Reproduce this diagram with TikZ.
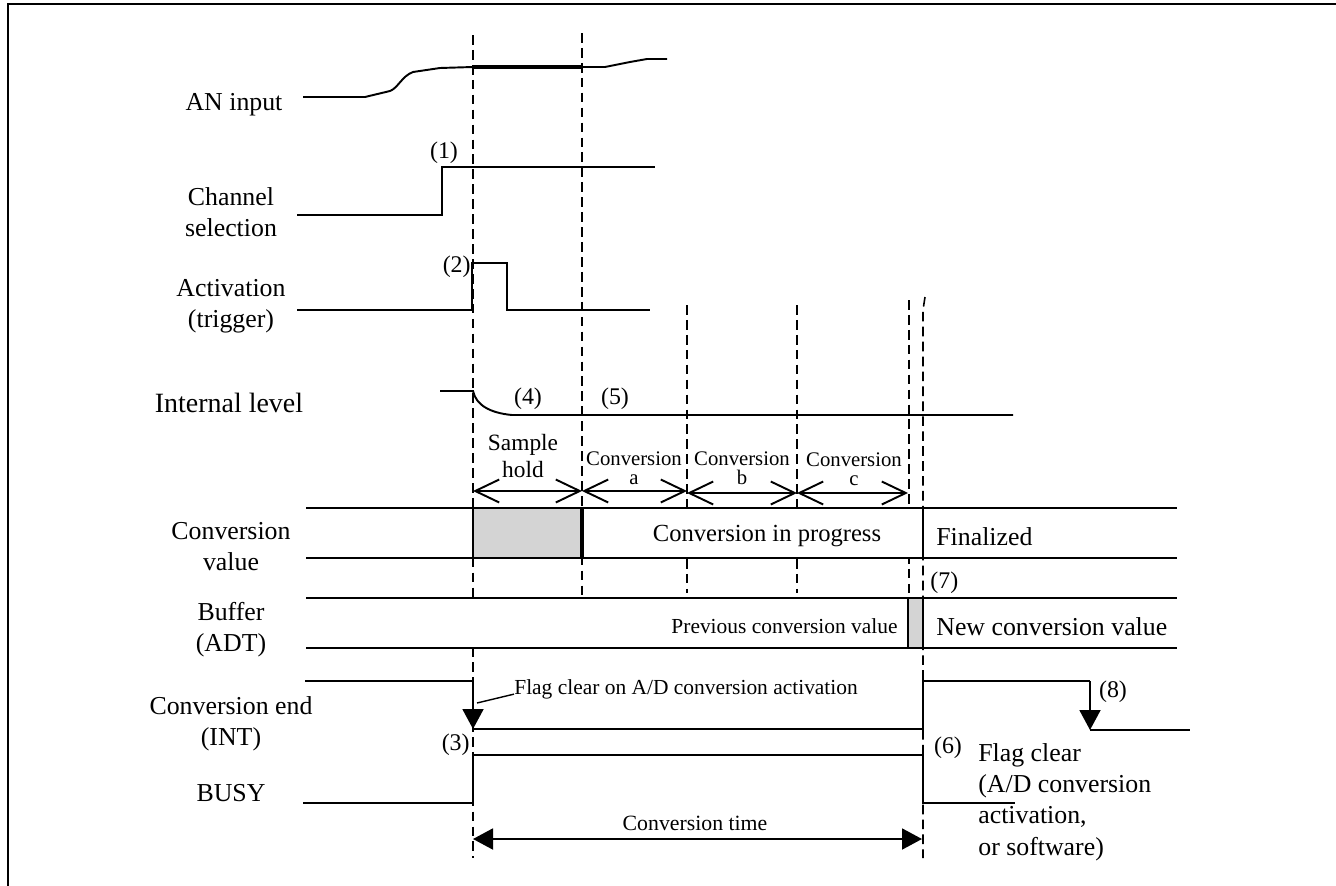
\documentclass[tikz,border=0pt]{standalone}
\usepackage{fontspec}
\setmainfont{Liberation Serif}
\usetikzlibrary{arrows.meta}
\begin{document}
\begin{tikzpicture}[x=0.02cm,y=-0.02cm,
  sig/.style={line width=1.1pt, line join=miter},
  thin/.style={line width=0.8pt},
  vdash/.style={line width=0.9pt, dash pattern=on 5.5pt off 3pt},
  lbl/.style={font=\fontsize{14.7}{17.6}\selectfont, align=center, inner sep=0pt},
  num/.style={font=\fontsize{13.6}{15.5}\selectfont, inner sep=0pt},
  sh/.style={font=\fontsize{13.3}{15.9}\selectfont, align=center, inner sep=0pt},
  convl/.style={font=\fontsize{11.8}{10.8}\selectfont, align=center, inner sep=0pt},
  small/.style={font=\fontsize{12.2}{14}\selectfont, inner sep=0pt},
  rtext/.style={font=\fontsize{14.7}{17.8}\selectfont, inner sep=0pt},
  span/.style={line width=1.1pt, {Straight Barb[length=0.48cm,width=0.46cm]}-{Straight Barb[length=0.48cm,width=0.46cm]}},
  farrow/.style={-{Triangle[length=0.4cm,width=0.42cm]}},
  darrow/.style={{Triangle[length=0.4cm,width=0.42cm]}-{Triangle[length=0.4cm,width=0.42cm]}},
  greybox/.style={fill=black!17}
]
\useasboundingbox (0,0) rectangle (1336,886);
% frame
\draw[line width=1.7pt] (8,886) -- (8,4) -- (1336,4);

% vertical dashed time markers
\draw[vdash] (473,35) -- (473,858);
\draw[vdash] (582,33) -- (582,596);
\draw[vdash] (687,305) -- (687,593);
\draw[vdash] (797,305) -- (797,593);
\draw[vdash] (909,300) -- (909,597);
\draw[vdash] (925,297) -- (923,310) -- (923,858);

% AN input
\draw[sig] (303,97) -- (365,97) -- (390,91) .. controls (398,88) and (402,76) .. (413,72) -- (440,68) -- (473,67);
\draw[line width=2.4pt] (473,67) -- (582,67);
\draw[sig] (582,67) -- (605,67) -- (630,62) -- (647,59) -- (667,59);

% Channel selection
\draw[sig] (297,215) -- (442,215) -- (442,167) -- (655,167);

% Activation
\draw[sig] (297,310) -- (472,310) -- (472,263) -- (507,263) -- (507,310) -- (650,310);

% Internal level
\draw[sig] (440,391) -- (473,391) .. controls (476,405) and (490,413) .. (512,415) -- (1013,415);

% phase spans
\draw[span] (473,491) -- (582,491);
\draw[span] (582,491) -- (687,491);
\draw[span] (687,493) -- (797,493);
\draw[span] (797,493) -- (908,493);

% Conversion value row
\fill[white] (306,508) rectangle (1177,558);
\fill[greybox] (473,508) rectangle (582,558);
\draw[sig] (306,508) -- (1177,508);
\draw[sig] (306,558) -- (1177,558);
\draw[thin] (473,508) -- (473,558);
\draw[line width=2pt] (582,508) -- (582,558);
\draw[sig] (923,508) -- (923,558);

% Buffer row
\fill[white] (306,598) rectangle (1177,648);
\fill[greybox] (908,598) rectangle (923,648);
\draw[thin] (908,598) -- (908,648);
\draw[thin] (923,598) -- (923,648);
\draw[sig] (306,598) -- (1177,598);
\draw[sig] (306,648) -- (1177,648);

% Conversion end (INT)
\draw[sig] (305,681) -- (473,681);
\draw[sig, farrow] (473,681) -- (473,729);
\draw[sig] (473,729) -- (923,729) -- (923,681) -- (1090,681);
\draw[sig, farrow] (1090,681) -- (1090,730);
\draw[sig] (1090,730) -- (1190,730);

% BUSY
\draw[sig] (303,803) -- (473,803) -- (473,755) -- (923,755) -- (923,803) -- (1015,803);

% Conversion time
\draw[sig, darrow] (473,839) -- (922,839);

% left labels
\node[lbl] (an) at (234,105) {AN input};
\node[lbl] (ch) at (231,212) {Channel\\selection};
\node[lbl] (act) at (231,306) {Activation\\(trigger)};
\node[font=\fontsize{15.9}{18}\selectfont, inner sep=0pt] (il) at (229,403) {Internal level};
\node[lbl] (cv) at (231,547) {Conversion\\value};
\node[lbl] (buf) at (231,630) {Buffer\\(ADT)};
\node[lbl] (ce) at (231,724) {Conversion end\\(INT)};
\node[lbl] (busy) at (231,793) {BUSY};

% event numbers
\node[num] (n1) at (444,153) {(1)};
\node[num, anchor=east] (n2) at (471,267) {(2)};
\node[num, anchor=east] (n3) at (470,745) {(3)};
\node[num] (n4) at (528,399) {(4)};
\node[num] (n5) at (615,399) {(5)};
\node[num] (n6) at (948,748) {(6)};
\node[num, anchor=west] (n7) at (930,583) {(7)};
\node[num] (n8) at (1113,692) {(8)};

% phase labels
\node[sh] (shl) at (523,456) {Sample\\hold};
\node[convl] (ca) at (634,468) {Conversion\\a};
\node[convl] (cb) at (742,468) {Conversion\\b};
\node[convl] (cc) at (854,469) {Conversion\\c};

% row texts
\node[font=\fontsize{14}{16}\selectfont, inner sep=0pt] (prog) at (767,536) {Conversion in progress};
\node[rtext, anchor=west] (fin) at (936,537) {Finalized};
\node[small, anchor=east] (prev) at (898,626) {Previous conversion value};
\node[rtext, anchor=west] (newv) at (936,627) {New conversion value};
\node[font=\fontsize{12.4}{14}\selectfont, inner sep=0pt] (ctime) at (695,823) {Conversion time};

% flag clear notes
\node[small, anchor=west] (flagtxt) at (514,689) {Flag clear on A/D conversion activation};
\coordinate (leadA) at (477,703);
\draw[thin] (leadA) -- (flagtxt.base west);
\node[rtext, anchor=west, align=left] (flag2) at (978,802) {Flag clear\\(A/D conversion\\activation,\\or software)};
\end{tikzpicture}
\end{document}
